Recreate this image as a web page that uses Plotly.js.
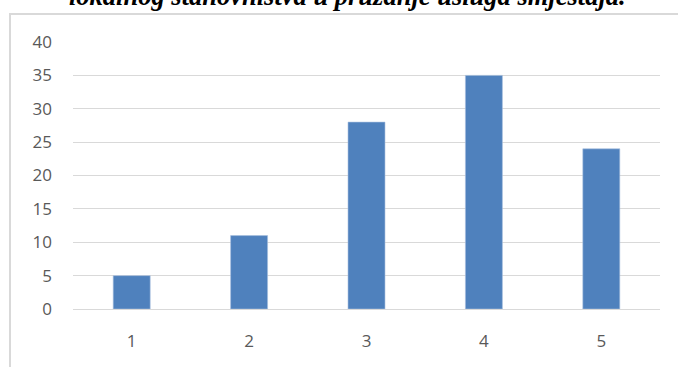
<!DOCTYPE html>
<html><head><meta charset="utf-8">
<script src="https://cdn.plot.ly/plotly-3.0.1.min.js"></script>
<style>
html,body{margin:0;padding:0;background:#fff;overflow:hidden;}
#frame{position:absolute;left:9px;top:13px;width:700px;height:400px;border:2px solid #d9d9d9;box-sizing:border-box;}
#chart{position:absolute;left:0;top:0;width:678px;height:367px;}
</style></head>
<body>
<div id="frame"></div>
<div id="chart"></div>
<script>
const categories = ['1','2','3','4','5'];
const values = [5, 11, 28, 35, 24];
const yTicks = [0,5,10,15,20,25,30,35,40];
const titleText = 'lokalnog stanovništva u pružanje usluga smještaja.';

const data = [{
  type: 'bar',
  x: categories,
  y: values,
  marker: {color: '#4f81bd', line: {color: '#a7bfdf', width: 0.6}},
  hoverinfo: 'none'
}];
const layout = {
  width: 678, height: 367,
  margin: {l: 73, r: 18, t: 42, b: 58},
  paper_bgcolor: 'rgba(0,0,0,0)',
  plot_bgcolor: 'rgba(0,0,0,0)',
  bargap: 0.685,
  showlegend: false,
  annotations: [{
    text: '<b><i>' + titleText + '</i></b>',
    font: {family: 'Liberation Serif', size: 26.5, color: '#000'},
    xref: 'paper', x: (347 - 73) / 587, xanchor: 'center',
    yref: 'paper', y: 1 + 29/267, yanchor: 'bottom',
    showarrow: false
  }],
  xaxis: {
    type: 'category',
    tickfont: {family: 'Open Sans', size: 17, color: '#595959'},
    ticks: '', ticklabelstandoff: 20,
    showgrid: false, showline: false, zeroline: false
  },
  yaxis: {
    range: [0, 40],
    tickvals: yTicks,
    tickfont: {family: 'Open Sans', size: 17, color: '#595959'},
    ticks: '', ticklabelstandoff: 20,
    showgrid: true, gridcolor: '#d9d9d9', gridwidth: 1,
    zeroline: true, zerolinecolor: '#d9d9d9', zerolinewidth: 1,
    showline: false
  }
};
Plotly.newPlot('chart', data, layout, {staticPlot: true, displayModeBar: false});
</script>
</body></html>
